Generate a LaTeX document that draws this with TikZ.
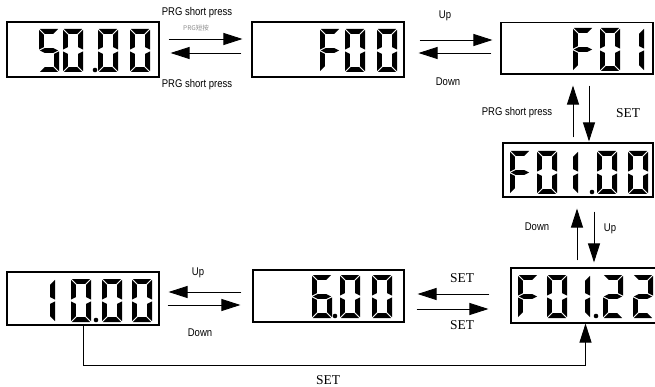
\documentclass[tikz,border=0pt]{standalone}
\usepackage{fontspec}
\setmainfont{Liberation Serif}
\newfontfamily\nar[FakeStretch=0.85]{Liberation Sans}
\newfontfamily\cjk{Noto Sans CJK SC}
\usetikzlibrary{arrows.meta}

% seven-segment glyph: width 20, height 43, bar 4.8, gap 0.9, mid 21.5
\newcommand\segA{\fill (0.9,0) -- (19.1,0) -- (14.3,4.8) -- (5.7,4.8) -- cycle;}
\newcommand\segD{\fill (0.9,43) -- (19.1,43) -- (14.3,38.2) -- (5.7,38.2) -- cycle;}
\newcommand\segF{\fill (0,0.9) -- (4.8,5.7) -- (4.8,18.2) -- (0,20.6) -- cycle;}
\newcommand\segE{\fill (0,22.4) -- (4.8,24.8) -- (4.8,37.3) -- (0,42.1) -- cycle;}
\newcommand\segB{\fill (20,0.9) -- (15.2,5.7) -- (15.2,18.2) -- (20,20.6) -- cycle;}
\newcommand\segC{\fill (20,22.4) -- (15.2,24.8) -- (15.2,37.3) -- (20,42.1) -- cycle;}
\newcommand\segG{\fill (0.9,21.5) -- (5.7,19.1) -- (14.3,19.1) -- (19.1,21.5) -- (14.3,23.9) -- (5.7,23.9) -- cycle;}
\newcommand\digit[3]{\begin{scope}[shift={(#1,#2)}]#3\end{scope}}
\newcommand\sdot[2]{\fill (#1,#2) circle (2.3);}
\newcommand\dZ{\segA\segB\segC\segD\segE\segF}
\newcommand\dV{\segA\segF\segG\segC\segD}
\newcommand\dF{\segA\segF\segG\segE}
\newcommand\dI{\segB\segC}
\newcommand\dII{\segA\segB\segG\segE\segD}
\newcommand\dVI{\segA\segF\segG\segE\segC\segD}

\tikzset{
  box/.style={draw, line width=1.1pt, inner sep=0pt},
  arr/.style={-{Triangle[length=19pt,width=12pt]}, line width=0.9pt},
  lab/.style={font=\nar\fontsize{11.2pt}{13pt}\selectfont, inner sep=0pt},
  slab/.style={font=\fontsize{13.5pt}{15pt}\selectfont, inner sep=0pt},
}

\begin{document}
\begin{tikzpicture}[x=1pt,y=-1pt]
\useasboundingbox (0,0) rectangle (655,387);

% boxes
\node[box, minimum width=152pt, minimum height=55pt] (b1) at (83,49.5) {};
\node[box, minimum width=152pt, minimum height=55pt] (b2) at (328,49.5) {};
\node[box, minimum width=152pt, minimum height=51.5pt] (b3) at (577,48.25) {};
\node[box, minimum width=150pt, minimum height=54pt] (b4) at (578,170) {};
\node[box, minimum width=149pt, minimum height=55pt] (b5) at (585.5,295.5) {};
\node[box, minimum width=151pt, minimum height=52pt] (b6) at (328.5,296) {};
\node[box, minimum width=152pt, minimum height=53pt] (b7) at (83,298.5) {};

% digits b1: 50.00
\digit{39}{29}{\dV}\digit{63}{29}{\dZ}\sdot{95}{70}\digit{98}{29}{\dZ}\digit{130}{29}{\dZ}
% b2: F00
\digit{320}{29}{\dF}\digit{345}{29}{\dZ}\digit{377}{29}{\dZ}
% b3: F01
\digit{573}{28}{\dF}\digit{600}{28}{\dZ}\digit{624}{28}{\dI}
% b4: F01.00
\digit{510}{151}{\dF}\digit{537}{151}{\dZ}\digit{558}{151}{\dI}\sdot{592}{192}\digit{597}{151}{\dZ}\digit{628}{151}{\dZ}
% b5: F01.22
\digit{518}{275}{\dF}\digit{547}{275}{\dZ}\digit{570}{275}{\dI}\sdot{596}{316}\digit{603}{275}{\dII}\digit{633}{275}{\dII}
% b6: 6.00
\digit{312}{275}{\dVI}\sdot{335}{316}\digit{340}{275}{\dZ}\digit{372}{275}{\dZ}
% b7: 10.00
\digit{35}{279}{\dI}\digit{71}{279}{\dZ}\sdot{96}{320}\digit{102}{279}{\dZ}\digit{132}{279}{\dZ}

% arrows
\draw[arr] ([shift={(9,-10.5)}]b1.east) -- ([shift={(-9,-10.5)}]b2.west);
\draw[arr] ([shift={(-10,3.5)}]b2.west) -- ([shift={(11,3.5)}]b1.east);
\draw[arr] ([shift={(15,-9.5)}]b2.east) -- ([shift={(-8,-8.25)}]b3.west);
\draw[arr] ([shift={(-9,4.75)}]b3.west) -- ([shift={(14,3.5)}]b2.east);
\draw[arr] ([shift={(-5,-5)}]b4.north) -- ([shift={(-4,11)}]b3.south);
\draw[arr] ([shift={(12,11)}]b3.south) -- ([shift={(11,-1)}]b4.north);
\draw[arr] ([shift={(-8.5,-7)}]b5.north) -- ([shift={(-1,11)}]b4.south);
\draw[arr] ([shift={(16,14)}]b4.south) -- ([shift={(8.5,-5)}]b5.north);
\draw[arr] ([shift={(-21,-1.5)}]b5.west) -- ([shift={(13,-2)}]b6.east);
\draw[arr] ([shift={(12,13)}]b6.east) -- ([shift={(-22,13.5)}]b5.west);
\draw[arr] ([shift={(-11,-4)}]b6.west) -- ([shift={(9,-6.5)}]b7.east);
\draw[arr] ([shift={(8,6.5)}]b7.east) -- ([shift={(-12,9)}]b6.west);
\draw[arr] (b7.south) -- ++(0,40) -| (b5.south);

% labels
\node[lab] (t1) at (197,13) {PRG short press};
\node[font=\cjk\fontsize{6.5pt}{7pt}\selectfont, text=black!45, inner sep=0pt] (t0) at (196,28) {PRG短按};
\node[lab] (t2) at (197,85) {PRG short press};
\node[lab] (t3) at (445,16) {Up};
\node[lab] (t4) at (448,82) {Down};
\node[lab] (t5) at (517,113) {PRG short press};
\node[slab] (t6) at (628,113) {SET};
\node[lab] (t7) at (537,227) {Down};
\node[lab] (t8) at (610,229) {Up};
\node[lab] (t9) at (198,273) {Up};
\node[lab] (t10) at (200,333) {Down};
\node[slab] (t11) at (462,278) {SET};
\node[slab] (t12) at (462,325) {SET};
\node[slab] (t13) at (328,380) {SET};
\end{tikzpicture}
\end{document}
